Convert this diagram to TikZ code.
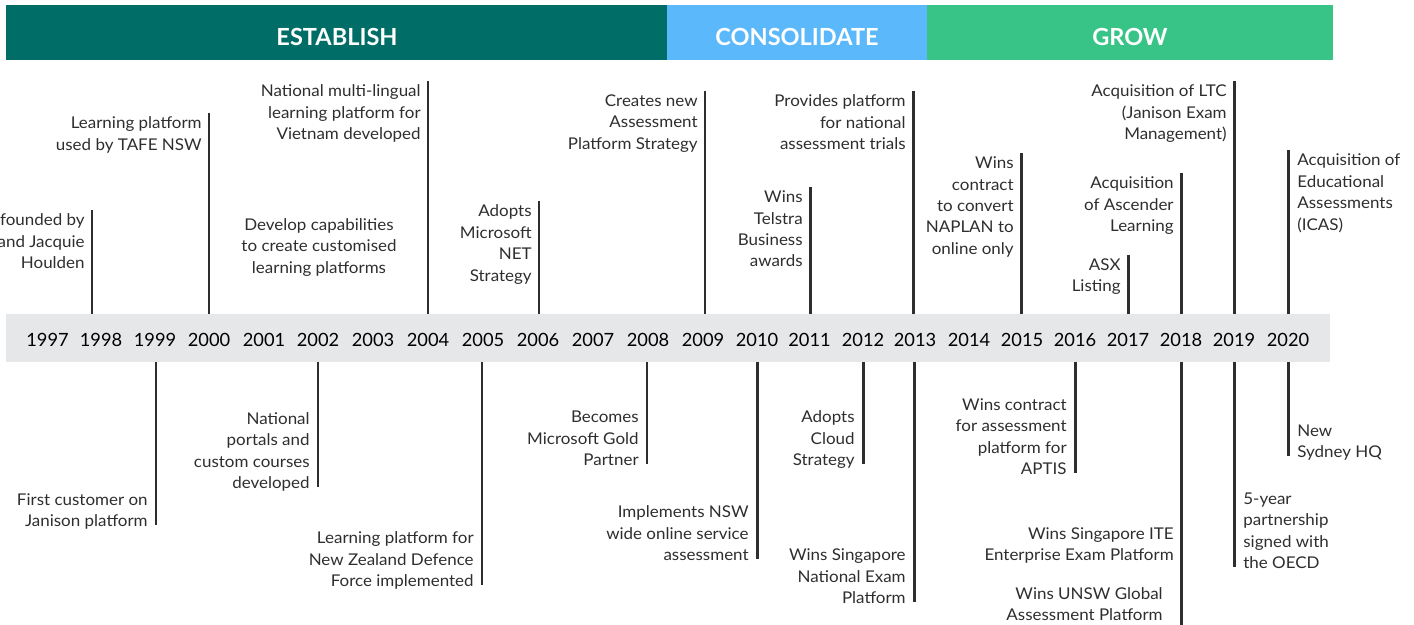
\documentclass[tikz,border=0pt]{standalone}
\usepackage{fontspec}
\setmainfont{Lato}
\newfontfamily\evtfont{Lato}[FakeStretch=1.05]

\definecolor{estc}{HTML}{006E66}
\definecolor{conc}{HTML}{5BB8FA}
\definecolor{groc}{HTML}{38C387}
\definecolor{bandc}{HTML}{E6E7E8}
\definecolor{inkc}{HTML}{2E2E2E}

\tikzset{
  stem/.style={draw=inkc, line width=1.7pt},
  evt/.style={inner sep=0pt, text=inkc, align=right,
    font=\evtfont\fontsize{9.2}{12.2}\selectfont},
  evtl/.style={evt, align=left},
  yearlbl/.style={inner sep=0pt, text=black, font=\fontsize{10.4}{12}\selectfont},
  phase/.style={inner sep=0pt, text=white, font=\bfseries\fontsize{13.4}{16}\selectfont}
}

\begin{document}
\begin{tikzpicture}[x=0.02cm, y=-0.02cm]
\useasboundingbox (0,0) rectangle (1414,625);

% phases
\fill[estc] (6,5) rectangle (667,60);
\fill[conc] (667,5) rectangle (927,60);
\fill[groc] (927,5) rectangle (1333,60);
\node[phase] (establish) at (337,36.5) {ESTABLISH};
\node[phase] (consolidate) at (797,36.5) {CONSOLIDATE};
\node[phase] (grow) at (1130,36.5) {GROW};

% year band
\node[fill=bandc, inner sep=0pt, minimum width=26.48cm, minimum height=0.96cm] (band) at (668,338) {};
\foreach \yr/\x in {1997/47.5,1998/101,1999/155,2000/209,2001/264,2002/318,2003/373,2004/428,
  2005/483,2006/538,2007/593,2008/648,2009/703,2010/757,2011/809.5,2012/863,2013/915,
  2014/969,2015/1022,2016/1075,2017/1128,2018/1181,2019/1234,2020/1288}
  \node[yearlbl] (y\yr) at (\x,340) {\yr};

% above the band
\foreach \n/\x/\y/\txt in {
  a/92/210/{founded by\\and Jacquie\\Houlden},
  b/209/113/{Learning platform\\used by TAFE NSW},
  c/428/81/{National multi-lingual\\learning platform for\\Vietnam developed},
  d/539/201/{Adopts\\Microsoft\\NET\\Strategy},
  e/705/91/{Creates new\\Assessment\\Platform Strategy},
  f/810/187/{Wins\\Telstra\\Business\\awards},
  g/913/91/{Provides platform\\for national\\assessment trials},
  h/1021/153/{Wins\\contract\\to convert\\NAPLAN to\\online only},
  i/1128/255/{ASX\\Listing},
  j/1181/173/{Acquisition\\of Ascender\\Learning},
  k/1234/81/{Acquisition of LTC\\(Janison Exam\\Management)}}{
  \coordinate (up\n) at (\x,\y);
  \draw[stem] (up\n) -- (up\n |- band.north);
  \node[evt, anchor=north east] (upl\n) at (\x-7,\y+3.5) {\txt};
}
\coordinate (upl) at (1288,150);
\draw[stem] (upl) -- (upl |- band.north);
\node[evtl, anchor=north west] (uplbl) at (1297,153.5) {Acquisition of\\Educational\\Assessments\\(ICAS)};
\node[evt, align=center, anchor=north] (develop) at (319,218) {Develop capabilities\\to create customised\\learning platforms};

% below the band
\foreach \n/\x/\y/\txt in {
  a/156/525/{First customer on\\Janison platform},
  b/318/487/{National\\portals and\\custom courses\\developed},
  c/482/585/{Learning platform for\\New Zealand Defence\\Force implemented},
  d/647/464/{Becomes\\Microsoft Gold\\Partner},
  e/757/559/{Implements NSW\\wide online service\\assessment},
  f/863/464/{Adopts\\Cloud\\Strategy},
  g/914/602/{Wins Singapore\\National Exam\\Platform},
  h/1075/473/{Wins contract\\for assessment\\platform for\\APTIS}}{
  \coordinate (dn\n) at (\x,\y);
  \draw[stem] (band.south -| dn\n) -- (dn\n);
  \node[evt, anchor=south east, text depth=0pt] (dnl\n) at (\x-8,\y+2) {\txt};
}
\coordinate (dni) at (1181,625);
\draw[stem] (band.south -| dni) -- (dni);
\node[evt, anchor=south east, text depth=0pt] (dnli) at (1174,561) {Wins Singapore ITE\\Enterprise Exam Platform};
\node[evt, anchor=south east, text depth=0pt] (dnlj) at (1163,621) {Wins UNSW Global\\Assessment Platform};
\coordinate (dnk) at (1234,567);
\draw[stem] (band.south -| dnk) -- (dnk);
\node[evtl, anchor=south west, text depth=0pt] (dnlk) at (1243,569) {5-year\\partnership\\signed with\\the OECD};
\coordinate (dnl) at (1288,456);
\draw[stem] (band.south -| dnl) -- (dnl);
\node[evtl, anchor=south west, text depth=0pt] (dnll) at (1297,458) {New\\Sydney HQ};
\end{tikzpicture}
\end{document}
